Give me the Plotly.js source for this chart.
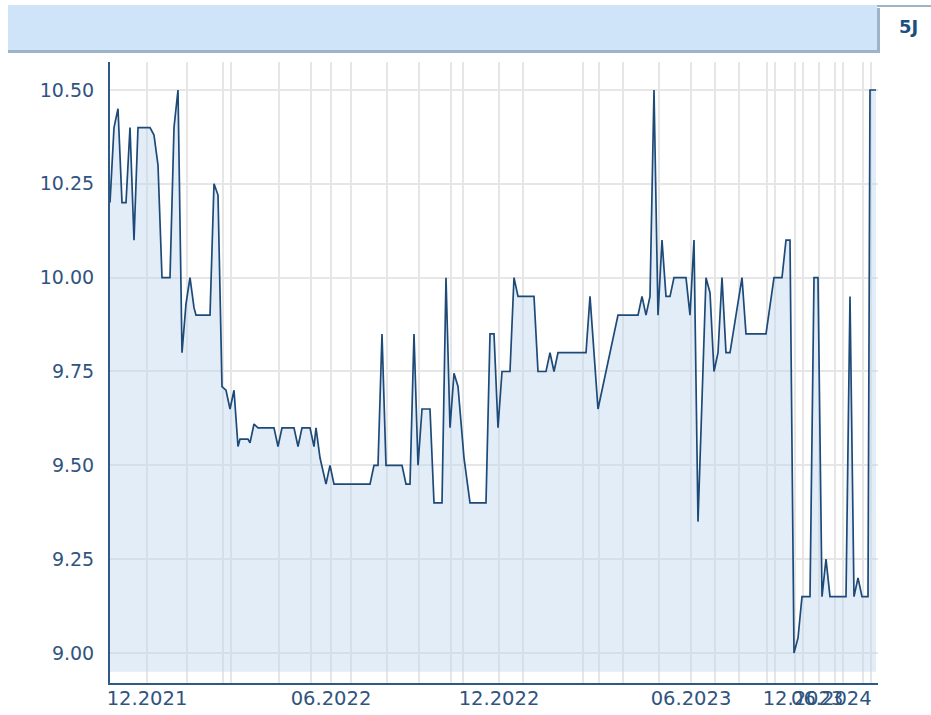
<!DOCTYPE html>
<html>
<head>
<meta charset="utf-8">
<script src="https://cdn.plot.ly/plotly-3.0.1.min.js"></script>
<style>
  html, body { margin: 0; padding: 0; background: #ffffff; }
  #chart { width: 931px; height: 715px; }
</style>
</head>
<body>
<div id="chart"></div>
<script>
const obsIdx = [0, 2, 4, 6, 8, 10, 12, 14, 20, 22, 24, 26, 30, 32, 34, 36, 38, 40, 42, 43,
  50, 52, 54, 56, 58, 60, 62, 64, 65, 69, 70, 72, 74, 82, 84, 86, 92, 94, 96, 100,
  102, 103, 105, 108, 110, 112, 130, 132, 134, 136, 138, 146, 148, 150, 152, 154, 156, 160, 162, 166,
  168, 170, 172, 174, 177, 180, 188, 190, 192, 194, 196, 200, 202, 204, 212, 214, 218, 220, 222, 224,
  238, 240, 244, 254, 264, 266, 268, 270, 272, 274, 276, 278, 280, 282, 288, 290, 292, 294, 298, 300,
  302, 304, 306, 308, 310, 316, 318, 328, 332, 336, 338, 340, 342, 344, 346, 350, 352, 354, 356, 358,
  360, 368, 370, 372, 374, 376, 379, 380, 383];
const price = [10.20, 10.40, 10.45, 10.20, 10.20, 10.40, 10.10, 10.40, 10.40, 10.38, 10.30, 10.00, 10.00, 10.40, 10.50, 9.80, 9.93, 10.00, 9.92, 9.90,
  9.90, 10.25, 10.22, 9.71, 9.70, 9.65, 9.70, 9.55, 9.57, 9.57, 9.56, 9.61, 9.60, 9.60, 9.55, 9.60, 9.60, 9.55, 9.60, 9.60,
  9.55, 9.60, 9.52, 9.45, 9.50, 9.45, 9.45, 9.50, 9.50, 9.85, 9.50, 9.50, 9.45, 9.45, 9.85, 9.50, 9.65, 9.65, 9.40, 9.40,
  10.00, 9.60, 9.745, 9.71, 9.52, 9.40, 9.40, 9.85, 9.85, 9.60, 9.75, 9.75, 10.00, 9.95, 9.95, 9.75, 9.75, 9.80, 9.75, 9.80,
  9.80, 9.95, 9.65, 9.90, 9.90, 9.95, 9.90, 9.95, 10.50, 9.90, 10.10, 9.95, 9.95, 10.00, 10.00, 9.90, 10.10, 9.35, 10.00, 9.96,
  9.75, 9.80, 10.00, 9.80, 9.80, 10.00, 9.85, 9.85, 10.00, 10.00, 10.10, 10.10, 9.00, 9.04, 9.15, 9.15, 10.00, 10.00, 9.15, 9.25,
  9.15, 9.15, 9.95, 9.15, 9.20, 9.15, 9.15, 10.50, 10.50];

// Month boundaries on the observation axis and their labels
const monthTicks = [18.5, 38.5, 56.5, 60.5, 84.5, 100.5, 110.5, 120.5, 138.5, 154.5, 170.5, 176.5, 194.5, 206.5, 236.5,
  244.5, 256.5, 274.5, 290.5, 302.5, 314.5, 328.5, 332.5, 342.5, 346.5, 354.5, 362.5, 366.5, 376.5, 380.5];
const monthLabels = ["12.2021", "", "", "", "", "", "06.2022", "", "", "", "", "", "12.2022", "", "",
  "", "", "", "06.2023", "", "", "", "", "", "12.2023", "", "", "", "", ""];
const lastLabel = "06.2024";
const yTicks = [9.00, 9.25, 9.50, 9.75, 10.00, 10.25, 10.50];
const fillBase = 8.95;
const periodLabel = "5J";

const textColor = "#2f5480";
const fontFam = "DejaVu Sans, Verdana, sans-serif";

const traces = [
  {
    x: [obsIdx[0], obsIdx[obsIdx.length - 1]],
    y: [fillBase, fillBase],
    mode: "lines",
    line: { width: 0, color: "rgba(0,0,0,0)" },
    hoverinfo: "skip",
    showlegend: false
  },
  {
    x: obsIdx,
    y: price,
    mode: "lines",
    fill: "tonexty",
    fillcolor: "rgba(190,215,240,0.45)",
    line: { color: "#1d4a78", width: 1.7 },
    hoverinfo: "skip",
    showlegend: false
  }
];

function px2paperX(px) { return (px - 110) / 768; }
function px2paperY(py) { return (683 - py) / 621; }

const layout = {
  width: 931,
  height: 715,
  margin: { l: 110, r: 53, t: 62, b: 32, pad: 0 },
  paper_bgcolor: "#ffffff",
  plot_bgcolor: "#ffffff",
  font: { family: fontFam, size: 19, color: textColor },
  showlegend: false,
  xaxis: {
    range: [0, 384],
    tickmode: "array",
    tickvals: monthTicks,
    ticktext: monthLabels,
    showgrid: true,
    gridcolor: "#e6e6e6",
    gridwidth: 2,
    zeroline: false,
    showline: true,
    linecolor: "#2f5a87",
    linewidth: 2,
    ticks: "",
    ticklabelstandoff: -3,
    tickangle: 0,
    tickfont: { family: fontFam, size: 19.5, color: textColor },
    fixedrange: true
  },
  yaxis: {
    range: [8.92, 10.5746],
    tickmode: "array",
    tickvals: yTicks,
    tickformat: ".2f",
    showgrid: true,
    gridcolor: "#e6e6e6",
    gridwidth: 2,
    zeroline: false,
    showline: true,
    linecolor: "#2f5a87",
    linewidth: 2,
    ticks: "",
    ticklabelstandoff: 10,
    tickfont: { family: fontFam, size: 19, color: textColor },
    fixedrange: true
  },
  shapes: [
    { type: "rect", xref: "paper", yref: "paper",
      x0: px2paperX(8), x1: px2paperX(880), y0: px2paperY(53), y1: px2paperY(8),
      fillcolor: "#9db3c8", line: { width: 0 }, layer: "above" },
    { type: "rect", xref: "paper", yref: "paper",
      x0: px2paperX(8), x1: px2paperX(877), y0: px2paperY(50), y1: px2paperY(5),
      fillcolor: "#cfe4f8", line: { width: 0 }, layer: "above" },
    { type: "line", xref: "paper", yref: "paper",
      x0: px2paperX(877), x1: px2paperX(931), y0: px2paperY(6), y1: px2paperY(6),
      line: { color: "#9db3c8", width: 2 }, layer: "above" }
  ],
  annotations: [
    { xref: "paper", yref: "paper", x: px2paperX(908), y: px2paperY(27),
      text: "<b>" + periodLabel + "</b>", showarrow: false,
      font: { family: "DejaVu Sans, sans-serif", size: 18, color: "#1b4f80" },
      xanchor: "center", yanchor: "middle" },
    { xref: "paper", yref: "paper", x: px2paperX(874), y: px2paperY(698),
      text: lastLabel, showarrow: false,
      font: { family: fontFam, size: 19.5, color: textColor },
      xanchor: "right", yanchor: "middle" }
  ]
};

Plotly.newPlot("chart", traces, layout, { staticPlot: true, displayModeBar: false });
</script>
</body>
</html>
